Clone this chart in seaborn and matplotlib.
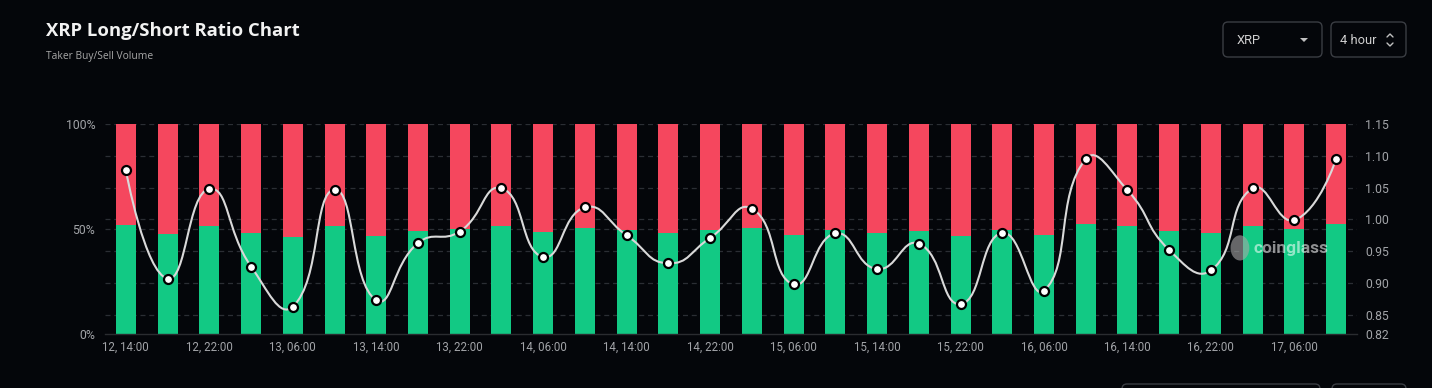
import numpy as np
import pandas as pd
import matplotlib
matplotlib.use("Agg")
import matplotlib.pyplot as plt
import seaborn as sns
from matplotlib.path import Path
from matplotlib.patches import PathPatch, FancyBboxPatch, Polygon, Ellipse

# ----------------------------------------------------------------------
# data
# ----------------------------------------------------------------------
times = ["12, 14:00", "12, 18:00", "12, 22:00", "13, 02:00", "13, 06:00", "13, 10:00",
         "13, 14:00", "13, 18:00", "13, 22:00", "14, 02:00", "14, 06:00", "14, 10:00",
         "14, 14:00", "14, 18:00", "14, 22:00", "15, 02:00", "15, 06:00", "15, 10:00",
         "15, 14:00", "15, 18:00", "15, 22:00", "16, 02:00", "16, 06:00", "16, 10:00",
         "16, 14:00", "16, 18:00", "16, 22:00", "17, 02:00", "17, 06:00", "17, 10:00"]
buy_pct = [51.9, 47.8, 51.3, 48.1, 46.3, 51.3, 46.8, 49.2, 49.8, 51.3,
           48.6, 50.6, 49.5, 48.3, 49.4, 50.6, 47.3, 49.5, 48.0, 49.0,
           46.5, 49.7, 47.0, 52.4, 51.3, 48.9, 48.0, 51.3, 50.2, 52.4]
ratio = [1.077, 0.907, 1.048, 0.926, 0.863, 1.047, 0.873, 0.963, 0.981, 1.049,
         0.941, 1.019, 0.975, 0.931, 0.971, 1.017, 0.898, 0.978, 0.922, 0.962,
         0.867, 0.979, 0.888, 1.095, 1.046, 0.952, 0.920, 1.049, 0.999, 1.095]
ratio_ticks = [0.82, 0.85, 0.90, 0.95, 1.00, 1.05, 1.10, 1.15]
pct_ticks = [0, 50, 100]

df = pd.DataFrame({"time": times, "buy": buy_pct, "ratio": ratio})
df["total"] = 100

BG = "#04060a"
GREEN = "#12c984"
RED = "#f5475e"
GRID = "#2b2e34"
TXT = "#a2a4a8"
W, H = 1432, 388

sns.set_theme(style="dark")
plt.rcParams["font.family"] = ["Roboto", "DejaVu Sans"]

fig = plt.figure(figsize=(W / 100, H / 100), dpi=100, facecolor=BG)
ax = fig.add_axes([105 / W, 1 - 334 / H, 1252 / W, 210 / H])
ax.set_facecolor(BG)

# stacked bars: sell (red) full height, buy (green) on top
sns.barplot(data=df, x="time", y="total", color=RED, width=0.48, saturation=1,
            ax=ax, zorder=2, linewidth=0)
sns.barplot(data=df, x="time", y="buy", color=GREEN, width=0.48, saturation=1,
            ax=ax, zorder=3, linewidth=0)
ax.set_xlim(-0.5, len(times) - 0.5)
ax.set_ylim(0, 100)
ax.set_xlabel("")
ax.set_ylabel("")
ax.set_yticks(pct_ticks)
ax.set_yticklabels([f"{t}%" for t in pct_ticks])
ax.set_xticks(range(0, len(times), 2))
ax.set_xticklabels(times[::2])
ax.tick_params(axis="y", colors=TXT, labelsize=8.8, length=0, pad=7)
ax.tick_params(axis="x", colors=TXT, labelsize=8.3, length=0, pad=5)
for s in ["top", "right", "left"]:
    ax.spines[s].set_visible(False)
ax.spines["bottom"].set_color("#2a2c30")
ax.spines["bottom"].set_linewidth(1)
ax.spines["bottom"].set_zorder(4)
ax.grid(False)

# dashed grid lines (right axis ticks + 50%)
lo, hi = ratio_ticks[0], ratio_ticks[-1]
for t in ratio_ticks[1:]:
    ax.axhline((t - lo) / (hi - lo) * 100, color=GRID, lw=0.9, ls=(0, (4, 3)), zorder=1)
ax.axhline(50, color=GRID, lw=0.9, ls=(0, (4, 3)), zorder=1)

# ratio axis
ax2 = ax.twinx()
ax2.set_ylim(lo, hi)
ax2.set_yticks(ratio_ticks)
ax2.set_yticklabels([f"{t:.2f}" for t in ratio_ticks])
ax2.tick_params(axis="y", colors=TXT, labelsize=8.8, length=0, pad=6)
for s in ax2.spines.values():
    s.set_visible(False)
ax2.grid(False)

# smooth line (echarts-like bezier, smooth = 0.5) in display space
pts = ax2.transData.transform(np.column_stack([np.arange(len(ratio)), ratio]))
n = len(pts)
cin = pts.copy()
cout = pts.copy()
for i in range(1, n - 1):
    p0, p1, p2 = pts[i - 1], pts[i], pts[i + 1]
    v = p2 - p0
    d0 = np.hypot(*(p1 - p0))
    d1 = np.hypot(*(p2 - p1))
    r = d1 / (d0 + d1)
    cout[i] = p1 + v * 0.5 * r
    cin[i] = p1 - v * 0.5 * (1 - r)
verts = [pts[0]]
codes = [Path.MOVETO]
for i in range(n - 1):
    verts += [cout[i], cin[i + 1], pts[i + 1]]
    codes += [Path.CURVE4] * 3
inv = ax2.transData.inverted()
path = Path(inv.transform(np.array(verts)), codes)
ax2.add_patch(PathPatch(path, fill=False, edgecolor="#d9d9d9", lw=1.5, zorder=5))
sns.scatterplot(x=np.arange(n), y=ratio, ax=ax2, s=42, color="white",
                edgecolor="black", linewidth=1.6, zorder=6)

# watermark
ax2.text(0.977, 0.405, "coinglass", transform=ax2.transAxes, ha="right", va="center",
         fontsize=12.5, fontweight="bold", color="white", alpha=0.55, zorder=4)
ax2.add_patch(Ellipse((0.9065, 0.41), 0.015, 0.12, transform=ax2.transAxes,
                      color="#a8a8a8", alpha=0.6, zorder=4, lw=0))

# overlay for header / controls
ov = fig.add_axes([0, 0, 1, 1])
ov.set_xlim(0, W)
ov.set_ylim(H, 0)
ov.axis("off")
ov.patch.set_alpha(0)

ov.text(46, 31, "XRP Long/Short Ratio Chart", fontsize=13.3, fontweight="bold",
        color="#f2f2f2", va="center", ha="left", family=["Open Sans", "DejaVu Sans"])
ov.text(46, 57, "Taker Buy/Sell Volume", fontsize=7.4, color="#a8a8a8",
        va="center", ha="left", family=["Open Sans", "DejaVu Sans"])

box_kw = dict(boxstyle="round,pad=0,rounding_size=5", facecolor=BG,
              edgecolor="#3a3d43", lw=1)
ov.add_patch(FancyBboxPatch((1223, 22), 99, 35, **box_kw))
ov.add_patch(FancyBboxPatch((1331, 22), 75, 35, **box_kw))
ov.add_patch(FancyBboxPatch((1122, 384), 198, 30, clip_on=False, **box_kw))
ov.add_patch(FancyBboxPatch((1332, 384), 74, 30, clip_on=False, **box_kw))
ov.text(1237, 40, "XRP", fontsize=9.3, color="#d0d0d0", va="center", ha="left")
ov.add_patch(Polygon([[1300, 38], [1308, 38], [1304, 42]], closed=True,
                     color="#c0c0c0", lw=0))
ov.text(1340, 40, "4 hour", fontsize=9.3, color="#d0d0d0", va="center", ha="left")
ov.plot([1387, 1390, 1393], [37, 34, 37], color="#c0c0c0", lw=1)
ov.plot([1387, 1390, 1393], [43, 46, 43], color="#c0c0c0", lw=1)

fig.savefig("out.png", dpi=100, facecolor=BG)
